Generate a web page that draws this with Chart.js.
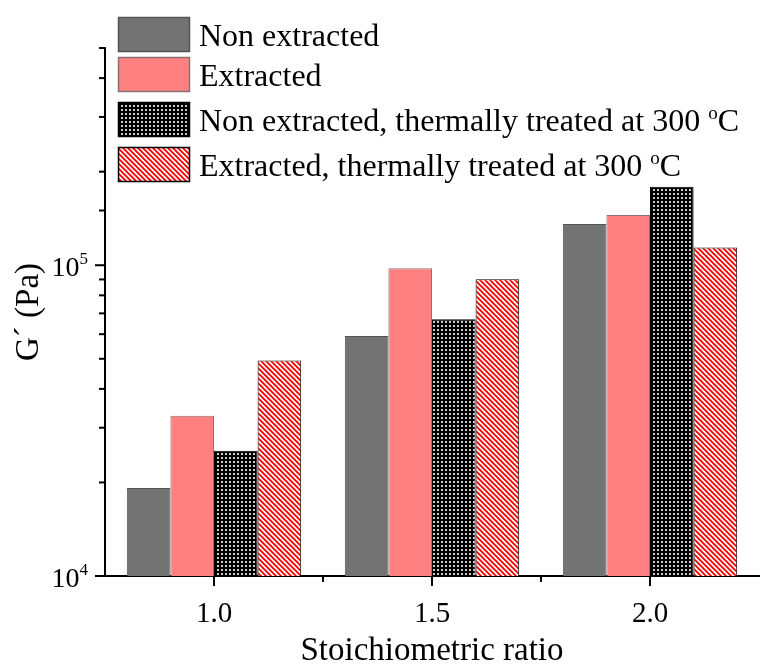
<!DOCTYPE html>
<html>
<head>
<meta charset="utf-8">
<script src="https://cdn.jsdelivr.net/npm/chart.js@4.4.0/dist/chart.umd.min.js"></script>
<style>
  html, body { margin: 0; padding: 0; background: #fff; }
  #wrap { width: 760px; height: 670px; }
</style>
</head>
<body>
<div id="wrap"><canvas id="chart" width="760" height="670"></canvas></div>
<script>
const ratios = [1.0, 1.5, 2.0];
const xTickLabels = ['1.0', '1.5', '2.0'];
const nonExtracted = [19200, 59200, 135600];
const extracted = [32800, 97800, 145000];
const nonExtractedHeated = [25300, 67000, 179000];
const extractedHeated = [49400, 90100, 114000];
const seriesLabels = [
  'Non extracted',
  'Extracted',
  'Non extracted, thermally treated at 300 °C',
  'Extracted, thermally treated at 300 °C'
];

const FONT = '"Liberation Serif", "Times New Roman", serif';

/* ---------- fill patterns ---------- */
function dotPattern() {
  const c = document.createElement('canvas');
  c.width = 4; c.height = 4;
  const g = c.getContext('2d');
  g.fillStyle = '#000';
  g.fillRect(0, 0, 4, 4);
  g.fillStyle = '#fff';
  g.beginPath();
  g.arc(2, 2, 1.05, 0, Math.PI * 2);
  g.fill();
  return g.createPattern(c, 'repeat');
}

function hatchPattern() {
  const s = 5;
  const c = document.createElement('canvas');
  c.width = s; c.height = s;
  const g = c.getContext('2d');
  g.fillStyle = '#fff';
  g.fillRect(0, 0, s, s);
  g.strokeStyle = '#ff0000';
  g.lineWidth = 1.9;
  g.beginPath();
  g.moveTo(-1, -1); g.lineTo(s + 1, s + 1);
  g.moveTo(-1, s - 1); g.lineTo(1, s + 1);
  g.moveTo(s - 1, -1); g.lineTo(s + 1, 1);
  g.stroke();
  return g.createPattern(c, 'repeat');
}

function toPoints(values) {
  return values.map((v, i) => ({ x: ratios[i], y: v }));
}

/* ---------- axis ticks + y labels + legend, drawn by hand ---------- */
const axisDecor = {
  id: 'axisDecor',
  afterDraw(chart) {
    const ctx = chart.ctx;
    const xs = chart.scales.x, ys = chart.scales.y;
    const area = chart.chartArea;
    ctx.save();
    ctx.strokeStyle = '#000';
    ctx.lineWidth = 2;

    // x ticks: major where a label exists, minor otherwise
    xs.ticks.forEach(t => {
      const px = xs.getPixelForValue(t.value);
      if (px < area.left + 1 || px > area.right - 1) return;
      const major = ratios.some(r => Math.abs(r - t.value) < 1e-6);
      ctx.beginPath();
      ctx.moveTo(px, area.bottom);
      ctx.lineTo(px, area.bottom + (major ? 10 : 6));
      ctx.stroke();
    });

    // y ticks: major at powers of ten
    ys.ticks.forEach(t => {
      const py = ys.getPixelForValue(t.value);
      const exp = Math.log10(t.value);
      const major = Math.abs(exp - Math.round(exp)) < 1e-9;
      ctx.beginPath();
      ctx.moveTo(area.left, py);
      ctx.lineTo(area.left - (major ? 10 : 6), py);
      ctx.stroke();
      if (major) {
        const sup = String(Math.round(exp));
        ctx.fillStyle = '#000';
        ctx.textBaseline = 'alphabetic';
        ctx.textAlign = 'right';
        ctx.font = '17px ' + FONT;
        const supW = ctx.measureText(sup).width;
        const rightX = area.left - 17;
        ctx.fillText(sup, rightX, py - 1);
        ctx.font = '28px ' + FONT;
        ctx.fillText('10', rightX - supW, py + 11);
      }
    });

    // legend
    const boxTops = [17, 57, 102, 147];
    const boxX = area.left + 13;
    chart.data.datasets.forEach((ds, i) => {
      const top = boxTops[i];
      ctx.fillStyle = ds.backgroundColor;
      ctx.fillRect(boxX, top, 72, 35);
      ctx.lineWidth = 1.5;
      ctx.strokeStyle = ds.borderColor;
      ctx.strokeRect(boxX + 0.5, top + 0.5, 71, 34);

      ctx.fillStyle = '#000';
      ctx.textAlign = 'left';
      ctx.textBaseline = 'alphabetic';
      const base = top + 29;
      let tx = boxX + 81;
      const parts = ds.label.split('°');
      ctx.font = '32px ' + FONT;
      ctx.fillText(parts[0], tx, base);
      if (parts.length > 1) {
        tx += ctx.measureText(parts[0]).width;
        ctx.font = '19px ' + FONT;
        ctx.fillText('o', tx, base - 12);
        tx += ctx.measureText('o').width;
        ctx.font = '32px ' + FONT;
        ctx.fillText(parts[1], tx, base);
      }
    });
    ctx.restore();
  }
};

const ctx = document.getElementById('chart').getContext('2d');
new Chart(ctx, {
  type: 'bar',
  data: {
    datasets: [
      { label: seriesLabels[0], data: toPoints(nonExtracted), backgroundColor: '#737373', borderColor: '#555555', borderWidth: 1 },
      { label: seriesLabels[1], data: toPoints(extracted), backgroundColor: '#ff8080', borderColor: '#8a7070', borderWidth: 1 },
      { label: seriesLabels[2], data: toPoints(nonExtractedHeated), backgroundColor: dotPattern(), borderColor: '#000000', borderWidth: 1 },
      { label: seriesLabels[3], data: toPoints(extractedHeated), backgroundColor: hatchPattern(), borderColor: '#000000', borderWidth: 1 }
    ]
  },
  options: {
    responsive: false,
    animation: false,
    // the minor 0.25 ticks halve the bar ruler, so the group spans 1.6 tick gaps
    categoryPercentage: 1.6,
    barPercentage: 1.0,
    layout: { padding: { top: 48, left: 0, right: 1, bottom: 0 } },
    plugins: {
      legend: { display: false },
      tooltip: { enabled: false }
    },
    scales: {
      x: {
        type: 'linear',
        min: 0.75,
        max: 2.25,
        offset: false,
        grid: { display: false, offset: false },
        border: { display: true, color: '#000', width: 2 },
        ticks: {
          stepSize: 0.25,
          autoSkip: false,
          maxRotation: 0,
          padding: 13,
          color: '#000',
          font: { family: FONT, size: 29 },
          callback: v => {
            const i = ratios.findIndex(r => Math.abs(r - v) < 1e-6);
            return i >= 0 ? xTickLabels[i] : '';
          }
        },
        title: {
          display: true,
          text: 'Stoichiometric ratio',
          color: '#000',
          font: { family: FONT, size: 33, lineHeight: 1 },
          padding: { top: 4, bottom: 2 }
        },
        afterFit: s => {
          s.height = 94;
          // tick padding is also added at the ends; the axis runs to the edge
          s.paddingLeft = 0;
          s.paddingRight = 0;
        }
      },
      y: {
        type: 'logarithmic',
        min: 10000,
        max: 500000,
        grid: { display: false },
        border: { display: true, color: '#000', width: 2 },
        ticks: { display: false, autoSkip: false },
        title: {
          display: true,
          text: 'G´ (Pa)',
          color: '#000',
          font: { family: FONT, size: 33, lineHeight: 1 },
          padding: { top: 13, bottom: 4 }
        },
        afterFit: s => { s.width = 105; }
      }
    }
  },
  plugins: [axisDecor]
});
</script>
</body>
</html>
